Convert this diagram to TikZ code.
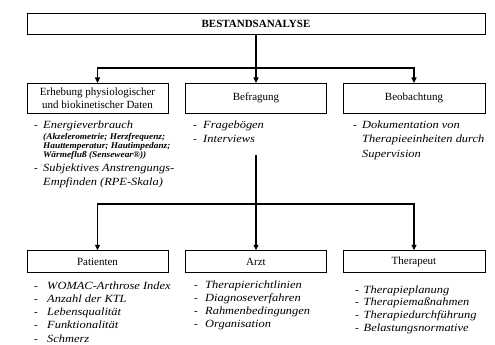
\documentclass[tikz,border=0pt]{standalone}
\usepackage{fontspec}
\setmainfont{Liberation Serif}[ItalicFeatures={FakeStretch=1.13},BoldItalicFeatures={FakeStretch=1.06}]
\usetikzlibrary{arrows.meta}
\newcommand\lsitem[2]{\makebox[#1][l]{-}\textit{#2}}
\begin{document}
\begin{tikzpicture}[x=1pt,y=-1pt,
 box/.style={draw, line width=0.8pt, inner sep=0pt, font=\fontsize{11}{13}\selectfont, align=center},
 li/.style={anchor=base west, inner sep=0pt, font=\fontsize{11}{13}\selectfont},
 sm/.style={anchor=base west, inner sep=0pt, font=\fontsize{8.8}{9}\selectfont\bfseries\itshape},
 conn/.style={line width=1.4pt, line cap=rect},
 arr/.style={line width=1.4pt, -{Triangle[length=5.5pt,width=5pt]}}]
\useasboundingbox (0,0) rectangle (495,345);
% title
\node[box, minimum width=458pt, minimum height=21pt, font=\fontsize{11}{13}\selectfont\bfseries] (top) at (256,23.7) {BESTANDSANALYSE};
% first row
\node[box, minimum width=141pt, minimum height=29.7pt] (b1) at (97.5,98.2) {Erhebung physiologischer\\und biokinetischer Daten};
\node[box, minimum width=141pt, minimum height=29.7pt] (b2) at (256,98.2) {Befragung};
\node[box, minimum width=142pt, minimum height=29.7pt] (b3) at (414,98.2) {Beobachtung};
% second row
\node[box, minimum width=141pt, minimum height=21.6pt] (p) at (97.5,261.5) {Patienten};
\node[box, minimum width=141pt, minimum height=21.6pt] (a) at (256,261.5) {Arzt};
\node[box, minimum width=142pt, minimum height=21.6pt] (t) at (414,261.5) {Therapeut};
% connectors top
\coordinate (j1) at (256,68);
\draw[conn] (top.south) -- (j1);
\draw[conn] (j1 -| b1.north) -- (j1 -| b3.north);
\draw[arr] (j1 -| b1.north) -- (b1.north);
\draw[arr] (j1) -- (b2.north);
\draw[arr] (j1 -| b3.north) -- (b3.north);
% connectors bottom
\coordinate (s) at (256,156);
\coordinate (j2) at (256,204);
\draw[conn] (s) -- (j2);
\draw[conn] (j2 -| p.north) -- (j2 -| t.north);
\draw[arr] (j2 -| p.north) -- (p.north);
\draw[arr] (j2) -- (a.north);
\draw[arr] (j2 -| t.north) -- (t.north);
% Erhebung list
\node[li] (e1) at (34,128) {\lsitem{9pt}{Energieverbrauch}};
\node[sm] (e2) at (43,139.5) {(Akzelerometrie; Herzfrequenz;};
\node[sm] (e3) at (43,148.5) {Hauttemperatur; Hautimpedanz;};
\node[sm] (e4) at (43,157.5) {Wärmefluß (Sensewear®))};
\node[li] (e5) at (34,171) {\lsitem{9pt}{Subjektives Anstrengungs-}};
\node[li] (e6) at (43,185) {\itshape Empfinden (RPE-Skala)};
% Befragung list
\node[li] (f1) at (193,128) {\lsitem{10pt}{Fragebögen}};
\node[li] (f2) at (193,142) {\lsitem{10pt}{Interviews}};
% Beobachtung list
\node[li] (o1) at (353,128) {\lsitem{9pt}{Dokumentation von}};
\node[li] (o2) at (362,142.5) {\itshape Therapieeinheiten durch};
\node[li] (o3) at (362,157) {\itshape Supervision};
% Patienten list
\node[li] (p1) at (34,289) {\lsitem{13pt}{WOMAC-Arthrose Index}};
\node[li] (p2) at (34,302.3) {\lsitem{13pt}{Anzahl der KTL}};
\node[li] (p3) at (34,315.6) {\lsitem{13pt}{Lebensqualität}};
\node[li] (p4) at (34,328.9) {\lsitem{13pt}{Funktionalität}};
\node[li] (p5) at (34,342.2) {\lsitem{13pt}{Schmerz}};
% Arzt list
\node[li] (a1) at (194,288) {\lsitem{11pt}{Therapierichtlinien}};
\node[li] (a2) at (194,301.3) {\lsitem{11pt}{Diagnoseverfahren}};
\node[li] (a3) at (194,314.6) {\lsitem{11pt}{Rahmenbedingungen}};
\node[li] (a4) at (194,327.9) {\lsitem{11pt}{Organisation}};
% Therapeut list
\node[li] (t1) at (355,293) {\lsitem{8.5pt}{Therapieplanung}};
\node[li] (t2) at (355,305.8) {\lsitem{8.5pt}{Therapiemaßnahmen}};
\node[li] (t3) at (355,318.6) {\lsitem{8.5pt}{Therapiedurchführung}};
\node[li] (t4) at (355,331.4) {\lsitem{8.5pt}{Belastungsnormative}};
\end{tikzpicture}
\end{document}
